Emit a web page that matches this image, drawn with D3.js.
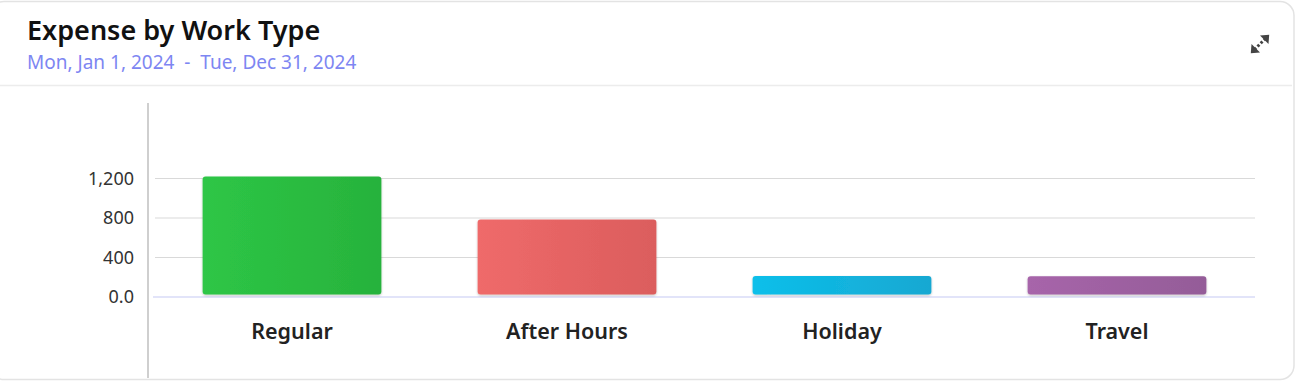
<!DOCTYPE html>
<html>
<head>
<meta charset="utf-8">
<script src="https://cdn.jsdelivr.net/npm/d3@7"></script>
<style>
  html, body { margin: 0; padding: 0; background: #fff; }
  body { width: 1298px; height: 388px; overflow: hidden; font-family: 'Noto Sans', 'Open Sans', sans-serif; }
</style>
</head>
<body>
<div id="chart"></div>
<script>
// Chart data
const categories = ['Regular', 'After Hours', 'Holiday', 'Travel']
const expenses = [1210, 775, 202, 200]
const yTicks = [0, 400, 800, 1200]
const yTickLabels = ['0.0', '400', '800', '1,200']
const barColors = [
  ['#2ec646', '#27b23c'],
  ['#ef6a6a', '#db5d5d'],
  ['#0cbfea', '#17a8d2'],
  ['#a765aa', '#945c98'],
]
const title = 'Expense by Work Type'
const subtitle = 'Mon, Jan 1, 2024  -  Tue, Dec 31, 2024'

const W = 1298, H = 388

const svg = d3.select('#chart')
  .append('svg')
  .attr('width', W)
  .attr('height', H)

const defs = svg.append('defs')

// Soft shadow under the bars
const shadow = defs.append('filter').attr('id', 'barShadow')
  .attr('x', '-5%').attr('y', '-10%').attr('width', '110%').attr('height', '130%')
shadow.append('feDropShadow')
  .attr('dx', 0).attr('dy', 1).attr('stdDeviation', 1)
  .attr('flood-color', '#000').attr('flood-opacity', 0.25)

barColors.forEach((c, i) => {
  const grad = defs.append('linearGradient').attr('id', 'grad' + i)
    .attr('x1', '0%').attr('x2', '100%').attr('y1', '0%').attr('y2', '0%')
  grad.append('stop').attr('offset', '0%').attr('stop-color', c[0])
  grad.append('stop').attr('offset', '100%').attr('stop-color', c[1])
})

// Card
svg.append('rect')
  .attr('x', -10).attr('y', 1.5)
  .attr('width', 1304).attr('height', 378)
  .attr('rx', 14)
  .attr('fill', '#fff')
  .attr('stroke', '#e3e3e3')
  .attr('stroke-width', 1.5)

svg.append('line')
  .attr('x1', 0).attr('x2', 1292)
  .attr('y1', 85.5).attr('y2', 85.5)
  .attr('stroke', '#ececec').attr('stroke-width', 1.5)

// Header
svg.append('text')
  .attr('x', 27).attr('y', 40)
  .style('font-family', "'Noto Sans', sans-serif")
  .style('font-size', '27px')
  .style('font-weight', 600)
  .style('fill', '#111')
  .text(title)

svg.append('text')
  .attr('x', 27).attr('y', 69)
  .attr('xml:space', 'preserve')
  .style('font-family', "'Noto Sans', sans-serif")
  .style('font-size', '19px')
  .style('fill', '#7d86f2')
  .style('white-space', 'pre')
  .text(subtitle)

// Expand icon
const icon = svg.append('g')
  .attr('transform', 'translate(1260,44) rotate(-45)')
  .attr('fill', '#444').attr('stroke', '#444')
icon.append('line').attr('x1', -8).attr('x2', 8).attr('y1', 0).attr('y2', 0)
  .attr('stroke-width', 3).attr('stroke-dasharray', '2.5 2')
icon.append('path').attr('d', 'M13,0 L6,-6 L6,6 Z').attr('stroke', 'none')
icon.append('path').attr('d', 'M-13,0 L-6,-6 L-6,6 Z').attr('stroke', 'none')

// Scales
const x = d3.scaleBand()
  .domain(categories)
  .range([154.5, 1254.5])
  .paddingInner(0.35)
  .paddingOuter(0.175)

const y = d3.scaleLinear()
  .domain([0, 1200])
  .range([297, 178.5])

// Grid lines
svg.append('g')
  .selectAll('line')
  .data(yTicks.filter(t => t > 0))
  .join('line')
  .attr('x1', 155).attr('x2', 1255)
  .attr('y1', d => y(d)).attr('y2', d => y(d))
  .attr('stroke', '#d9d9d9').attr('stroke-width', 1.2)

// Baseline
svg.append('line')
  .attr('x1', 153).attr('x2', 1255)
  .attr('y1', y(0)).attr('y2', y(0))
  .attr('stroke', '#d9dbf7').attr('stroke-width', 1.5)

// Y axis
const yAxis = d3.axisLeft(y)
  .tickValues(yTicks)
  .tickFormat((d, i) => yTickLabels[i])
  .tickSize(0)
  .tickPadding(14)

const yG = svg.append('g')
  .attr('transform', 'translate(148,0)')
  .call(yAxis)
yG.select('.domain').remove()
yG.selectAll('text')
  .style('font-family', "'Noto Sans', sans-serif")
  .style('font-size', '18px')
  .style('fill', '#333')

svg.append('line')
  .attr('x1', 148).attr('x2', 148)
  .attr('y1', 103).attr('y2', 378)
  .attr('stroke', '#cfcfcf').attr('stroke-width', 2)

// Bars (drawn slightly lifted off the baseline)
const lift = 2.5
svg.append('g')
  .selectAll('rect')
  .data(expenses)
  .join('rect')
  .attr('x', (d, i) => x(categories[i]))
  .attr('width', x.bandwidth())
  .attr('y', d => y(d) - 1)
  .attr('height', d => y(0) - y(d) + 1 - lift)
  .attr('rx', 3)
  .attr('fill', (d, i) => `url(#grad${i})`)
  .attr('filter', 'url(#barShadow)')

// Category labels
const xAxis = d3.axisBottom(x).tickSize(0).tickPadding(0)
const xG = svg.append('g')
  .attr('transform', 'translate(0,331)')
  .call(xAxis)
xG.select('.domain').remove()
xG.selectAll('text')
  .attr('dy', '0.35em')
  .style('font-family', "'Noto Sans', sans-serif")
  .style('font-size', '21.5px')
  .style('font-weight', 600)
  .style('fill', '#222')
</script>
</body>
</html>
